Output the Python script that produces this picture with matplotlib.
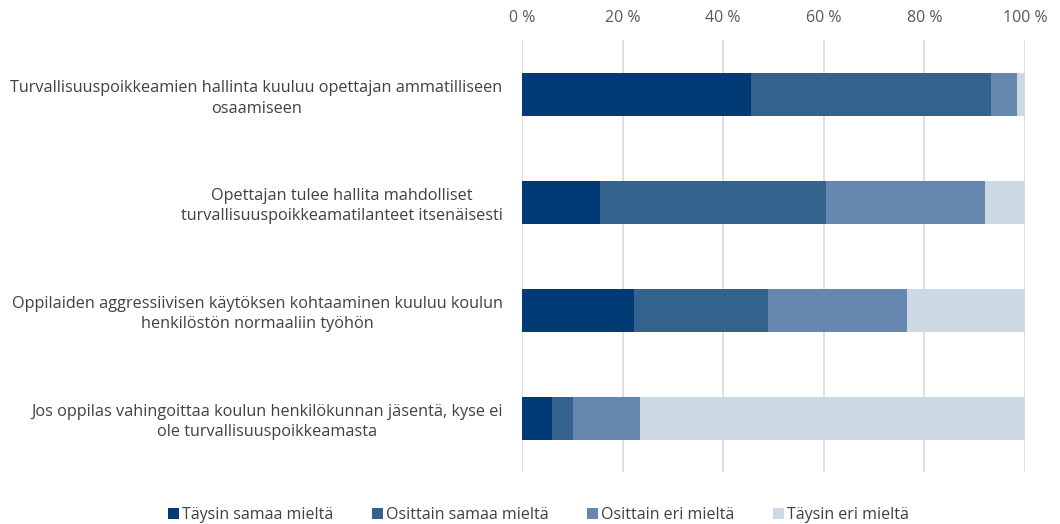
import matplotlib.pyplot as plt
import numpy as np

plt.rcParams['font.family'] = ['Open Sans', 'DejaVu Sans']

statements = [
    'Turvallisuuspoikkeamien hallinta kuuluu opettajan ammatilliseen\nosaamiseen',
    'Opettajan tulee hallita mahdolliset\nturvallisuuspoikkeamatilanteet itsenäisesti',
    'Oppilaiden aggressiivisen käytöksen kohtaaminen kuuluu koulun\nhenkilöstön normaaliin työhön',
    'Jos oppilas vahingoittaa koulun henkilökunnan jäsentä, kyse ei\nole turvallisuuspoikkeamasta',
]
series = ['Täysin samaa mieltä', 'Osittain samaa mieltä', 'Osittain eri mieltä', 'Täysin eri mieltä']
taysin_samaa = [45.5, 15.5, 22.3, 6.0]
osittain_samaa = [47.7, 44.9, 26.6, 4.1]
osittain_eri = [5.2, 31.6, 27.6, 13.4]
taysin_eri = [1.6, 8.0, 23.5, 76.5]
colors = ['#003b75', '#33628c', '#6688b0', '#ccd8e3']
ticks = [0, 20, 40, 60, 80, 100]

fig = plt.figure(figsize=(10.6, 5.24), dpi=100)
ax = fig.add_axes([0.4925, 0.099, 0.4745, 0.824])

y = np.arange(len(statements))
left = np.zeros(len(statements))
for name, vals, c in zip(series, [taysin_samaa, osittain_samaa, osittain_eri, taysin_eri], colors):
    ax.barh(y, vals, left=left, height=0.4, color=c, label=name, zorder=3)
    left += np.array(vals)

ax.set_ylim(3.5, -0.5)
ax.set_xlim(0, 100)
ax.set_xticks(ticks)
ax.set_xticklabels([f'{t} %' for t in ticks], fontsize=11.5, color='#595959')
ax.xaxis.tick_top()
ax.tick_params(axis='x', length=0, pad=10)
ax.set_yticks(y)
ax.set_yticklabels(statements, fontsize=11.7, color='#404040')
for lbl in ax.get_yticklabels():
    lbl.set_multialignment('center')
    lbl.set_linespacing(1.35)
ax.tick_params(axis='y', length=0, pad=14)
ax.grid(axis='x', color='#d9d9d9', linewidth=1.2, zorder=0)
for s in ax.spines.values():
    s.set_visible(False)

fig.legend(loc='lower center', bbox_to_anchor=(0.508, -0.025), ncol=4, frameon=False,
           fontsize=11.5, handlelength=0.7, handleheight=0.7, handletextpad=0.2,
           columnspacing=2.4, labelcolor='#404040')

fig.savefig('out.png', dpi=100)
